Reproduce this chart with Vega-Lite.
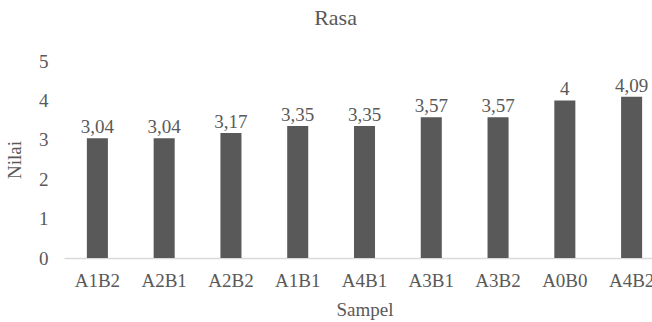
{
  "$schema": "https://vega.github.io/schema/vega-lite/v6.json",
  "width": 601,
  "height": 197,
  "autosize": "none",
  "padding": {"left": 64, "top": 61, "right": 0, "bottom": 64},
  "background": "white",
  "config": {
    "view": {"stroke": null},
    "font": "serif",
    "locale": {"number": {"decimal": ",", "thousands": ".", "grouping": [3], "currency": ["", ""]}}
  },
  "title": {
    "text": "Rasa",
    "font": "serif",
    "fontSize": 22,
    "fontWeight": "normal",
    "color": "#595959",
    "anchor": "middle",
    "dx": -29,
    "offset": 22
  },
  "data": {
    "values": [
      {"sampel": "A1B2", "nilai": 3.04},
      {"sampel": "A2B1", "nilai": 3.04},
      {"sampel": "A2B2", "nilai": 3.17},
      {"sampel": "A1B1", "nilai": 3.35},
      {"sampel": "A4B1", "nilai": 3.35},
      {"sampel": "A3B1", "nilai": 3.57},
      {"sampel": "A3B2", "nilai": 3.57},
      {"sampel": "A0B0", "nilai": 4},
      {"sampel": "A4B2", "nilai": 4.09}
    ]
  },
  "encoding": {
    "x": {
      "field": "sampel",
      "type": "nominal",
      "sort": null,
      "scale": {"paddingInner": 0, "paddingOuter": 0},
      "axis": {
        "title": "Sampel",
        "titleFont": "serif",
        "titleFontSize": 19,
        "titleFontWeight": "normal",
        "titleColor": "#595959",
        "titlePadding": 10,
        "labelFont": "serif",
        "labelFontSize": 19,
        "labelColor": "#595959",
        "labelAngle": 0,
        "labelPadding": 13,
        "labelOverlap": false,
        "ticks": false,
        "domainColor": "#d9d9d9",
        "domainWidth": 1.5
      }
    },
    "y": {
      "field": "nilai",
      "type": "quantitative",
      "scale": {"domain": [0, 5]},
      "axis": {
        "title": "Nilai",
        "titleFont": "serif",
        "titleFontSize": 19,
        "titleFontWeight": "normal",
        "titleColor": "#595959",
        "titlePadding": 14,
        "labelFont": "serif",
        "labelFontSize": 19,
        "labelColor": "#595959",
        "labelPadding": 16,
        "labelOverlap": false,
        "values": [0, 1, 2, 3, 4, 5],
        "ticks": false,
        "domain": false,
        "grid": false
      }
    }
  },
  "layer": [
    {
      "mark": {"type": "bar", "color": "#595959", "width": {"band": 0.315}}
    },
    {
      "mark": {
        "type": "text",
        "baseline": "alphabetic",
        "dy": -5,
        "font": "serif",
        "fontSize": 19,
        "color": "#595959"
      },
      "encoding": {
        "text": {"field": "nilai", "type": "quantitative", "format": "~g"}
      }
    }
  ]
}
